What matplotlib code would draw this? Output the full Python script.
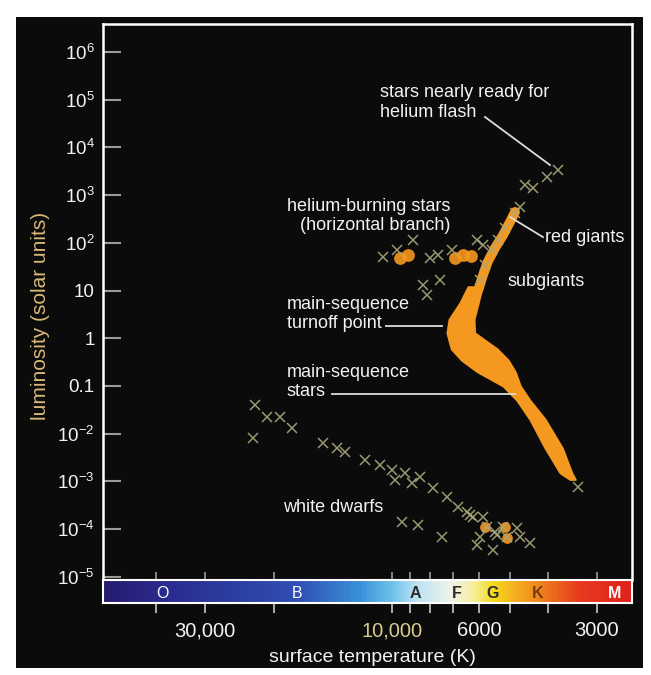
import numpy as np
import matplotlib.pyplot as plt
from matplotlib.colors import LinearSegmentedColormap
from matplotlib.patches import Rectangle
from matplotlib.ticker import NullLocator

plt.rcParams['font.family'] = ['Liberation Sans', 'DejaVu Sans']
plt.rcParams['mathtext.fontset'] = 'custom'
plt.rcParams['mathtext.rm'] = 'Liberation Sans'
plt.rcParams['mathtext.it'] = 'Liberation Sans:italic'

# --- cluster data (temperature in K, luminosity in solar units) ---
# main-sequence band: hot and cool edge at each luminosity
ms_lum = [12, 5.5, 2.5, 1.3, 0.6, 0.35, 0.2, 0.1, 0.05, 0.02, 0.005, 0.0015, 0.0011]
ms_hot = [6400, 6710, 7150, 7240, 7060, 6650, 6065, 5210, 4800, 4450, 4070, 3725, 3515]
ms_cool = [5890, 6030, 6180, 6160, 5400, 5060, 4855, 4710, 4450, 4070, 3680, 3480, 3410]

# subgiant / red-giant branch
rgb_T = [6030, 5860, 5700, 5460, 5210, 5000, 4855]
rgb_L = [10, 21, 40, 78, 145, 275, 445]

# dense clumps on the horizontal branch and among the white dwarfs
hb_clump_T = [9540, 9100, 6905, 6590, 6270]
hb_clump_L = [48, 55, 48, 55, 52]
wd_clump_T = [5790, 5150, 5090]
wd_clump_L = [1.1e-4, 1.1e-4, 6.5e-5]

# individual stars
giant_T = [3775, 4025, 4370, 4580, 4710, 4855, 5150, 5370, 5550, 5790, 5960, 6065, 5860]
giant_L = [3360, 2390, 1410, 1630, 564, 422, 204, 115, 71, 34, 16.6, 115, 90]

hb_T = [10540, 9710, 8840, 8000, 7640, 7030, 8340, 7550, 8145]
hb_L = [50, 71, 115, 48, 55, 71, 13, 16.6, 8.1]

wd_T = [22340, 20840, 19310, 17990, 22650, 14990, 13810, 13180, 11720, 10730,
        10000, 9265, 8485, 9825, 8890, 7855, 7240, 6785, 6440, 6210,
        5860, 5725, 5210, 5090, 5400, 5960, 6065, 5525, 4710, 4450,
        9430, 8586, 7450, 4800, 6325, 5460]
wd_L = [0.040, 0.0223, 0.0223, 0.0131, 0.0081, 0.0064, 0.0050, 0.0041, 0.0028, 0.0022,
        0.0017, 0.0015, 0.00123, 0.00106, 0.00092, 0.00072, 0.00047, 0.00029, 0.00023, 0.000179,
        0.000179, 0.00011, 0.00011, 6.8e-5, 7.5e-5, 6.8e-5, 4.6e-5, 3.6e-5, 6.8e-5, 5.1e-5,
        1.4e-4, 1.2e-4, 6.8e-5, 1.05e-4, 1.97e-4, 8.6e-5]

ms_tip_T = [3355]
ms_tip_L = [7.6e-4]

# --- axes ---
lum_ticks = [1e6, 1e5, 1e4, 1e3, 1e2, 10, 1, 0.1, 1e-2, 1e-3, 1e-4, 1e-5]
lum_labels = ['$10^{6}$', '$10^{5}$', '$10^{4}$', '$10^{3}$', '$10^{2}$', '10', '1', '0.1',
              '$10^{-2}$', '$10^{-3}$', '$10^{-4}$', '$10^{-5}$']
temp_ticks = [40000, 30000, 20000, 10000, 9000, 8000, 7000, 6000, 5000, 4000, 3000]
temp_labels = ['', '30,000', '', '10,000', '', '', '', '6000', '', '', '3000']

spec_classes = ['O', 'B', 'A', 'F', 'G', 'K', 'M']
spec_temps = [38600, 17460, 8735, 6820, 5525, 4245, 2700]
spec_colors = ['white', 'white', '#2b2b2b', '#2b2b2b', '#2b2b2b', '#7a3a12', 'white']
spec_weights = ['normal', 'normal', 'bold', 'bold', 'bold', 'bold', 'bold']

T_HOT, T_COOL = 54580, 2443
L_MIN, L_MAX = 10 ** -5.069, 10 ** 6.587

ORANGE = '#f5981f'
CROSS = '#aaa87c'
TEXT = '#f2f2f2'
LINE = '#dcdcdc'

fig = plt.figure(figsize=(6.51, 6.75), dpi=100, facecolor='white')
fig.patches.append(Rectangle((0.024, 0.010), 0.963, 0.965, transform=fig.transFigure,
                             facecolor='#0b0b0b', edgecolor='none', zorder=-10))

ax = fig.add_axes([0.1582, 0.1407, 0.8126, 0.8237])
bar = fig.add_axes([0.1582, 0.1067, 0.8126, 0.0340])

ax.set_facecolor('#0b0b0b')
ax.set_xscale('log')
ax.set_yscale('log')
ax.set_xlim(T_HOT, T_COOL)
ax.set_ylim(L_MIN, L_MAX)

# main sequence band and giant branch
ax.fill_betweenx(ms_lum, ms_hot, ms_cool, color=ORANGE, lw=1.5, edgecolor=ORANGE, zorder=2)
ax.plot(rgb_T, rgb_L, color=ORANGE, lw=7, solid_capstyle='round', zorder=2)
ax.scatter(hb_clump_T, hb_clump_L, s=85, color=ORANGE, lw=0, alpha=0.9, zorder=2)
ax.scatter(wd_clump_T, wd_clump_L, s=60, color=ORANGE, lw=0, alpha=0.9, zorder=2)

for T, L in [(giant_T, giant_L), (hb_T, hb_L), (wd_T, wd_L), (ms_tip_T, ms_tip_L)]:
    ax.plot(T, L, 'x', color=CROSS, ms=6.5, mew=1.1, alpha=0.9, zorder=3)

ax.set_yticks(lum_ticks)
ax.set_yticklabels(lum_labels)
ax.yaxis.set_minor_locator(NullLocator())
ax.set_xticks(temp_ticks)
ax.set_xticklabels([])
ax.xaxis.set_minor_locator(NullLocator())
ax.tick_params(axis='y', direction='in', length=13, width=1.5, color='#9a9a9a',
               labelcolor=TEXT, labelsize=13.5, pad=6)
ax.tick_params(axis='x', direction='in', length=6, width=1.2, color='#9a9a9a')
for side in ['left', 'top', 'right']:
    ax.spines[side].set_color('white')
    ax.spines[side].set_linewidth(1.8)
ax.spines['bottom'].set_visible(False)

# spectral-class colour bar
spec_cmap = LinearSegmentedColormap.from_list('spectral', [
    (0.0, '#251c6e'), (0.112, '#2a2a8c'), (0.367, '#2f4fb3'), (0.486, '#3a90d8'),
    (0.546, '#6cc0ea'), (0.59, '#b8e0f2'), (0.656, '#eef3ec'), (0.703, '#f6ee9a'),
    (0.737, '#f5dc1e'), (0.788, '#f4a81e'), (0.836, '#ef7a1e'), (0.902, '#e83a1e'),
    (1.0, '#e0201c')])
edges = np.geomspace(T_HOT, T_COOL, 400)
bar.pcolormesh(edges, [0, 1], np.linspace(0, 1, 399)[None, :], cmap=spec_cmap, shading='flat')
bar.set_xscale('log')
bar.set_xlim(T_HOT, T_COOL)
bar.set_ylim(0, 1)
bar.set_yticks([])
bar.set_xticks(temp_ticks)
bar.set_xticklabels(temp_labels)
bar.xaxis.set_minor_locator(NullLocator())
bar.tick_params(axis='x', direction='out', length=7, width=1.2, color='#c8c8c8',
                labelcolor=TEXT, labelsize=14.5, pad=6)
bar.get_xticklabels()[3].set_color('#d9cc8c')
for side in bar.spines:
    bar.spines[side].set_color('white')
    bar.spines[side].set_linewidth(1.5)
for cls, t, c, w in zip(spec_classes, spec_temps, spec_colors, spec_weights):
    bar.text(t, 0.42, cls, color=c, fontsize=11.5, fontweight=w, ha='center', va='center')

fig.text(0.5714, 0.0252, 'surface temperature (K)', color=TEXT, fontsize=14,
         ha='center', va='center')
fig.text(0.0615, 0.532, 'luminosity (solar units)', color='#d9b878', fontsize=15,
         rotation=90, ha='center', va='center')

# labels and leader lines
def leader(x0, y0, x1, y1):
    ax.plot([x0, x1], [y0, y1], color=LINE, lw=1.3, zorder=4)

kw = dict(color=TEXT, fontsize=13, va='center', zorder=5)
ax.text(10730, 8.7e4, 'stars nearly ready for\nhelium flash', ha='left', **kw)
leader(5790, 4.34e4, 3955, 4.28e3)
ax.text(7110, 365, 'helium-burning stars\n(horizontal branch)', ha='right',
        multialignment='right', **kw)
ax.text(4075, 132, 'red giants', ha='left', **kw)
leader(5000, 348, 4120, 132)
ax.text(5060, 15.1, 'subgiants', ha='left', **kw)
ax.text(18540, 3.21, 'main-sequence\nturnoff point', ha='left', **kw)
leader(10350, 1.80, 7450, 1.80)
ax.text(18540, 0.121, 'main-sequence\nstars', ha='left', **kw)
leader(14220, 0.0676, 4855, 0.0676)
ax.text(18970, 2.89e-4, 'white dwarfs', ha='left', **kw)

plt.savefig('out.png', dpi=100, facecolor='white')
